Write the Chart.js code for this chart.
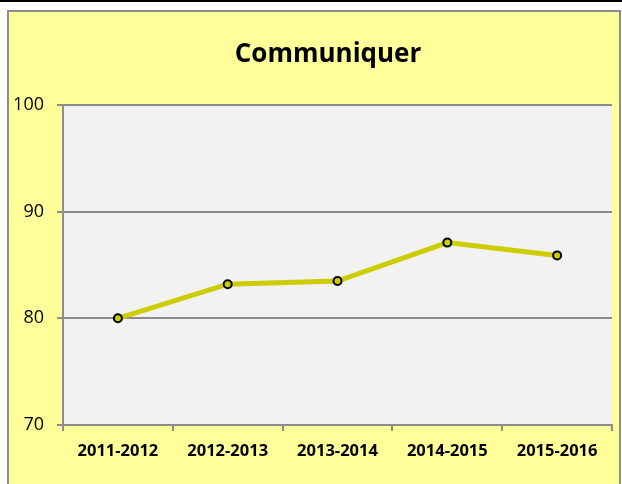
<!DOCTYPE html>
<html>
<head>
<meta charset="utf-8">
<script src="https://cdn.jsdelivr.net/npm/chart.js@4/dist/chart.umd.min.js"></script>
<style>
  html, body { margin: 0; padding: 0; background: #fff; }
  body { width: 622px; height: 484px; overflow: hidden; border-top: 2px solid #000; box-sizing: border-box; position: relative; }
  #box {
    position: absolute; left: 7px; top: 8px; width: 610px; height: 480px;
    background: #FFFF99; border: 2px solid #8c8c8c;
  }
  #box canvas { display: block; }
</style>
</head>
<body>
<div id="box"><canvas id="chart" width="610" height="474"></canvas></div>
<script>
const chartTitle = 'Communiquer';
const years = ['2011-2012', '2012-2013', '2013-2014', '2014-2015', '2015-2016'];
const scores = [80.0, 83.2, 83.5, 87.1, 85.9];
const yTicks = [70, 80, 90, 100];

// grey plot area like the spreadsheet
const plotBg = {
  id: 'plotBg',
  beforeDraw(chart) {
    const a = chart.chartArea;
    const ctx = chart.ctx;
    ctx.save();
    ctx.fillStyle = '#F2F2F2';
    ctx.fillRect(a.left, a.top, a.right - a.left, a.bottom - a.top);
    ctx.restore();
  }
};

// title sits a bit right of the canvas centre, as in the original
const titleText = {
  id: 'titleText',
  afterDraw(chart) {
    const ctx = chart.ctx;
    ctx.save();
    ctx.fillStyle = '#000';
    ctx.font = 'bold 26px "Open Sans"';
    ctx.textAlign = 'center';
    ctx.textBaseline = 'alphabetic';
    ctx.fillText(chartTitle, 319, 50);
    ctx.restore();
  }
};

const ctx = document.getElementById('chart').getContext('2d');
const chart = new Chart(ctx, {
  type: 'line',
  plugins: [plotBg, titleText],
  data: {
    labels: years,
    datasets: [{
      label: chartTitle,
      data: scores,
      borderColor: '#CCCC00',
      borderWidth: 5,
      pointRadius: 4,
      pointBorderWidth: 2,
      pointBorderColor: '#000',
      pointBackgroundColor: '#CCCC00',
      tension: 0
    }]
  },
  options: {
    responsive: false,
    animation: false,
    layout: { padding: { left: 0, right: 7, top: 93, bottom: 0 } },
    plugins: {
      legend: { display: false },
      tooltip: { enabled: false },
      title: { display: false }
    },
    scales: {
      x: {
        offset: true,
        grid: { offset: true, drawOnChartArea: false, drawTicks: true, tickLength: 6, color: '#8c8c8c', lineWidth: 2 },
        border: { color: '#8c8c8c', width: 2 },
        ticks: { color: '#000', font: { family: 'Open Sans', size: 16.5, weight: 'bold' }, padding: 10, maxRotation: 0 },
        afterFit(scale) { scale.height = 61; }
      },
      y: {
        min: 70,
        max: 100,
        afterBuildTicks(scale) { scale.ticks = yTicks.map(v => ({ value: v })); },
        grid: { color: '#8c8c8c', lineWidth: 2, tickLength: 6 },
        border: { color: '#8c8c8c', width: 2 },
        ticks: { color: '#000', font: { family: 'Open Sans', size: 18 }, padding: 13 },
        afterFit(scale) { scale.width = 54; }
      }
    }
  }
});
</script>
</body>
</html>
